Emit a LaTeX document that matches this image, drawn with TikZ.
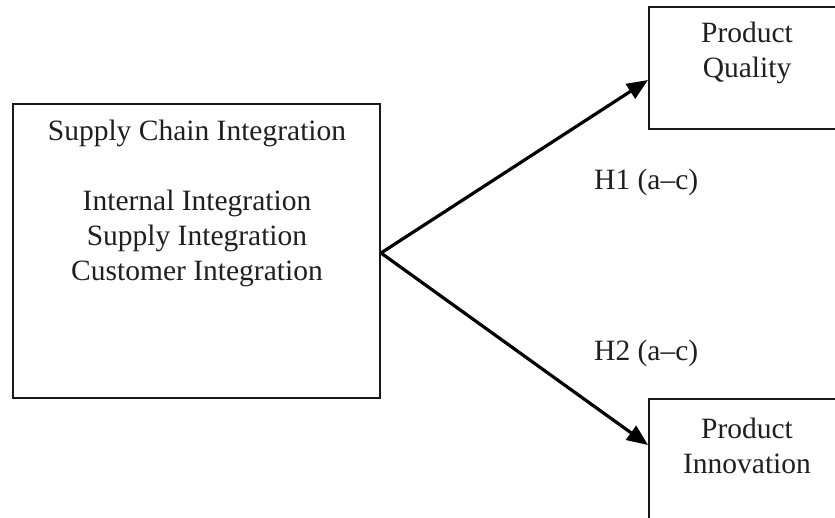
\documentclass[tikz,border=0pt]{standalone}
\usepackage{fontspec}
\setmainfont{Liberation Serif}
\usetikzlibrary{arrows.meta}
\begin{document}
\begin{tikzpicture}[x=1pt,y=-1pt,
  boxshape/.style={draw=black!90,line width=2.3pt,rectangle,inner sep=0pt},
  txt/.style={font=\fontsize{29.5}{35}\selectfont,text=black!88,align=center,inner sep=0pt},
  link/.style={draw=black,line width=3.2pt,-{Triangle[length=21pt,width=17pt]}}]
\useasboundingbox (0,0) rectangle (835,518);
\clip (0,0) rectangle (835,518);
% boxes
\node[boxshape,minimum width=367pt,minimum height=294pt] (sci) at (196.5,251) {};
\node[boxshape,minimum width=200pt,minimum height=122pt,anchor=north west] (pq) at (648,6) {};
\node[boxshape,minimum width=200pt,minimum height=140pt,anchor=north west] (pi) at (648,398) {};
% texts
\node[txt] (scititle) at (197,133) {Supply Chain Integration};
\node[txt] (scidims) at (197,238) {Internal Integration\\Supply Integration\\Customer Integration};
\node[txt] (pqtext) at (747,53) {Product\\Quality};
\node[txt] (pitext) at (747,446) {Product\\Innovation};
\node[txt,anchor=west] (h1) at (594,182) {H1 (a–c)};
\node[txt,anchor=west] (h2) at (594,353) {H2 (a–c)};
% connectors
\coordinate (src) at (381,253);
\coordinate (pqin) at (648,80);
\coordinate (piin) at (648,445);
\draw[link] (src) -- (pqin);
\draw[link] (src) -- (piin);
\end{tikzpicture}
\end{document}
